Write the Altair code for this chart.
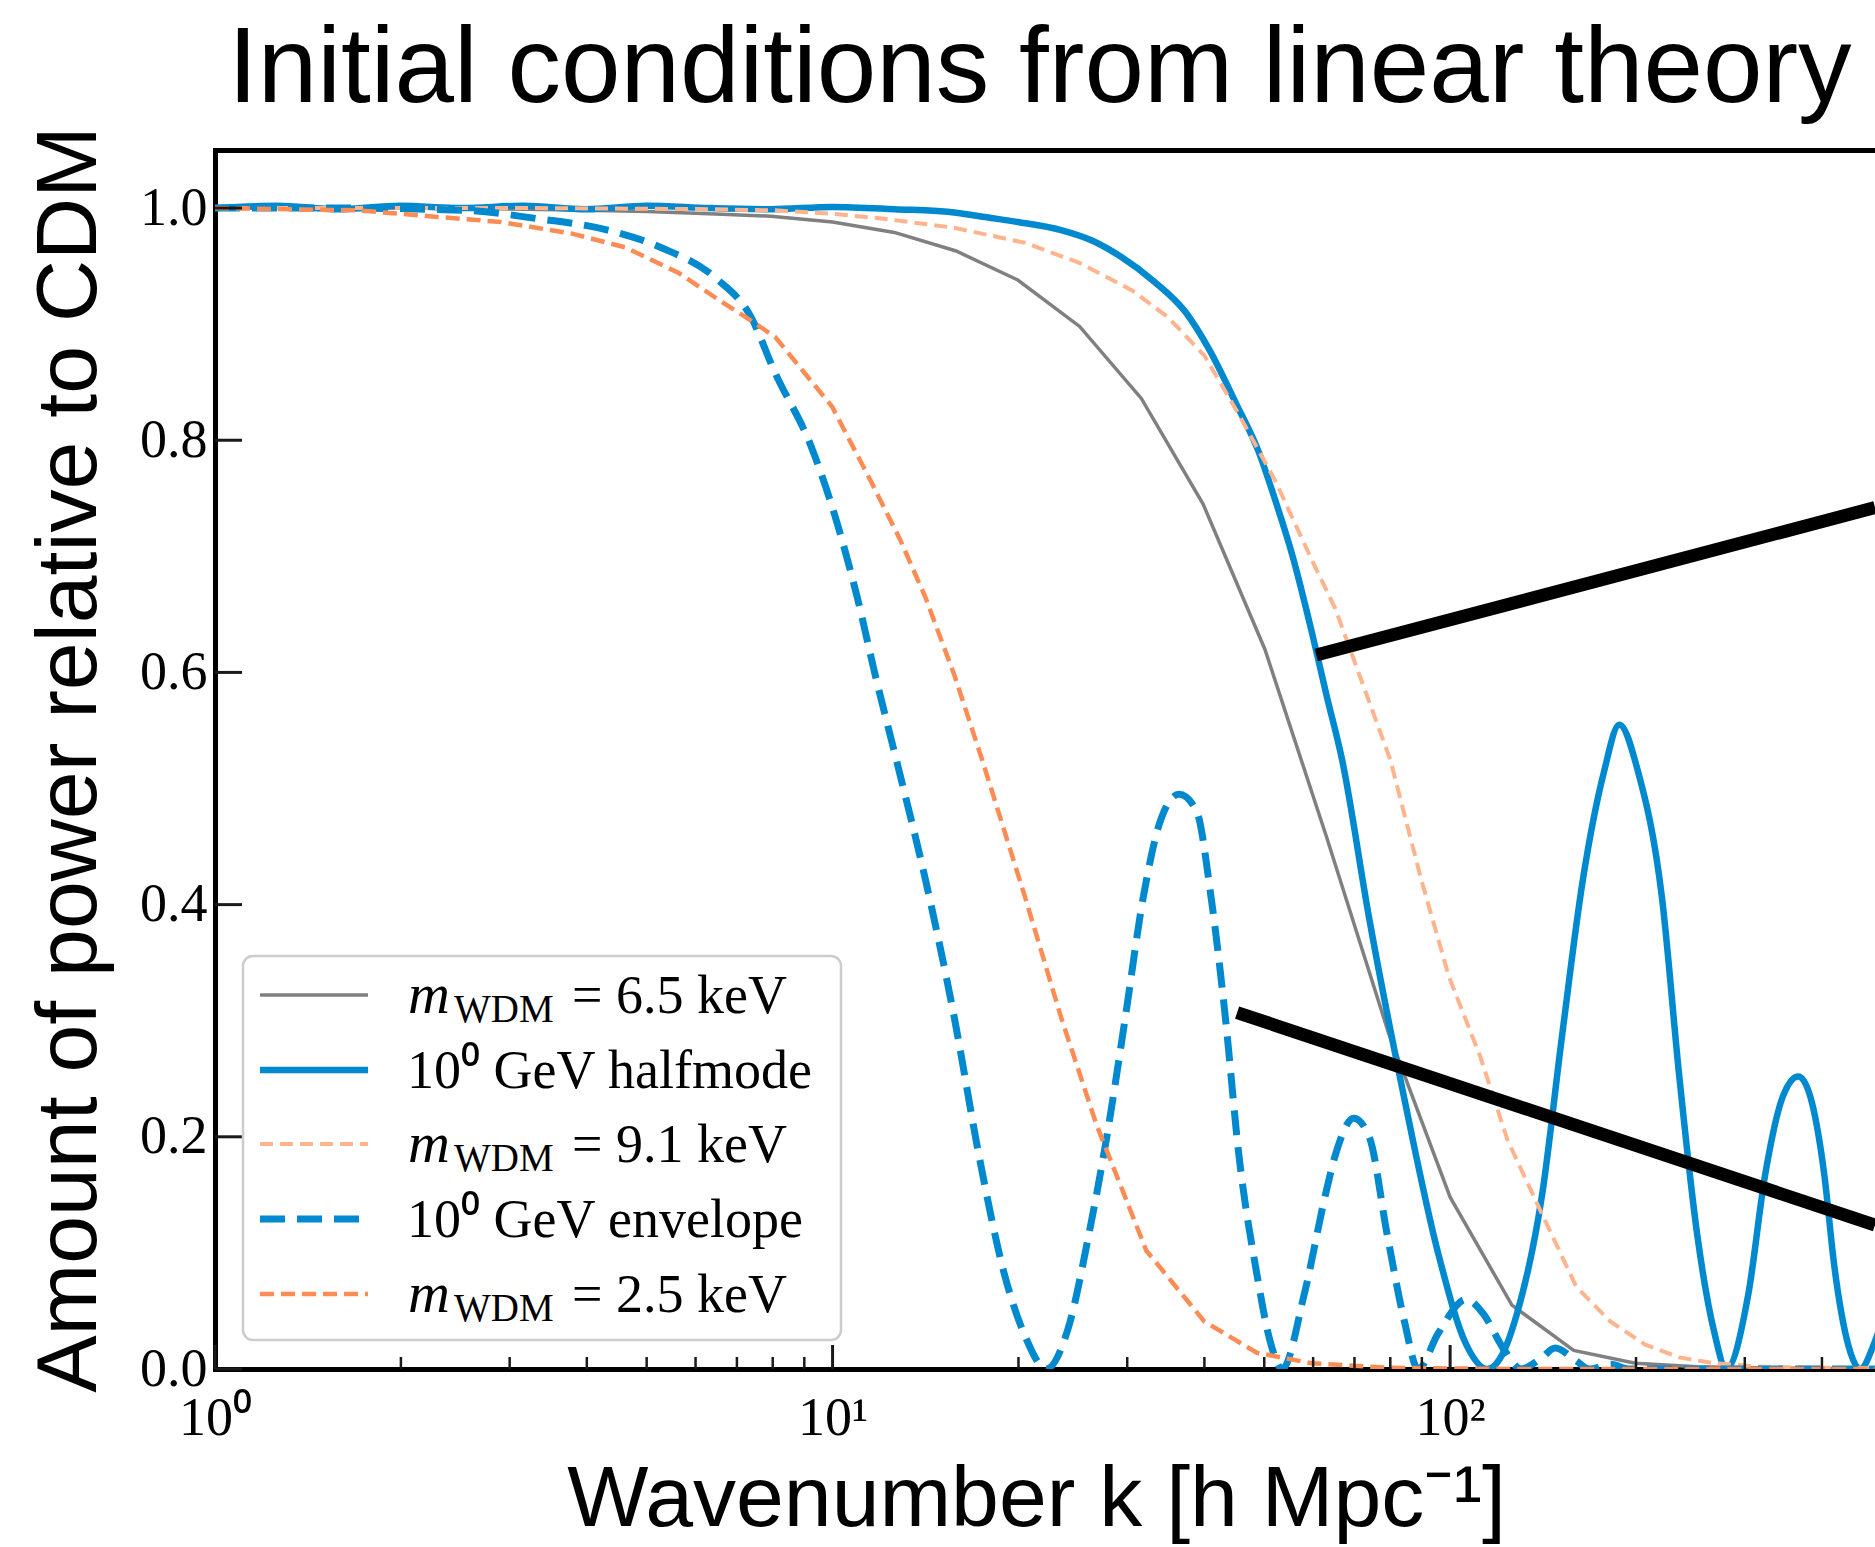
import altair as alt
import pandas as pd

# ---------------- data ----------------
# m_WDM = 6.5 keV (grey, solid)
k_gray = [1.0, 1.259, 1.585, 1.995, 2.512, 3.162, 3.981, 5.012, 6.310, 7.943, 10.0, 12.59, 15.85, 19.95,
          25.12, 31.62, 39.81, 50.12, 63.10, 79.43, 100.0, 125.9, 158.5, 199.5, 251.2, 316.2, 398.1, 501.2]
p_gray = [1.000, 1.000, 1.000, 1.000, 1.000, 0.999, 0.998, 0.997, 0.995, 0.993, 0.988, 0.979, 0.963, 0.938,
          0.898, 0.836, 0.745, 0.620, 0.458, 0.290, 0.148, 0.055, 0.016, 0.005, 0.002, 0.001, 0.0005, 0.0003]

# 10^0 GeV halfmode (blue, solid)
k_half = [1.0, 1.259, 1.585, 1.995, 2.512, 3.162, 3.981, 5.012, 6.310, 7.943, 10.0, 12.59, 15.85, 17.78,
          19.95, 23.44, 26.3, 29.31, 33.11, 37.33, 40.74, 44.98, 48.98, 52.12, 55.59, 59.57, 63.10, 66.83,
          73.96, 84.14, 95.71, 106.2, 114.8, 121.6, 128.2, 140.9, 151.7, 164.1, 177.4, 187.9, 201.4, 220.3,
          235.0, 251.2, 267.9, 279.9, 304.1, 323.6, 345.9, 366.4, 382.8, 403.6, 418.8, 441.6, 461.3, 487.5,
          512.9]
p_half = [1.000, 1.002, 0.999, 1.002, 1.000, 1.002, 0.999, 1.002, 1.000, 0.999, 1.001, 0.999, 0.996, 0.992,
          0.988, 0.981, 0.972, 0.958, 0.937, 0.910, 0.878, 0.832, 0.790, 0.748, 0.700, 0.637, 0.580, 0.525,
          0.388, 0.235, 0.099, 0.021, 0.000, 0.013, 0.047, 0.150, 0.286, 0.422, 0.514, 0.555, 0.515, 0.406,
          0.252, 0.116, 0.031, 0.000, 0.065, 0.167, 0.235, 0.252, 0.235, 0.167, 0.089, 0.020, 0.000, 0.024,
          0.060]

# m_WDM = 9.1 keV (light orange, dashed)
k_91 = [1.0, 3.162, 6.310, 8.072, 10.0, 12.02, 15.74, 20.51, 25.06, 30.55, 34.91, 39.99, 45.5, 52.12,
        59.57, 65.16, 79.98, 89.74, 99.54, 111.9, 123.9, 139.0, 160.0, 181.6, 207.0, 235.0, 267.3, 316.2,
        501.2]
p_91 = [1.000, 1.000, 0.999, 0.998, 0.995, 0.991, 0.983, 0.970, 0.953, 0.929, 0.906, 0.873, 0.822, 0.765,
        0.698, 0.655, 0.525, 0.422, 0.338, 0.269, 0.197, 0.140, 0.071, 0.041, 0.021, 0.010, 0.005, 0.002,
        0.0005]

# 10^0 GeV envelope (blue, dashed)
k_env = [1.0, 1.585, 2.541, 3.311, 4.325, 5.272, 6.457, 7.379, 8.072, 9.226, 10.14, 10.96, 11.72, 12.68,
         14.13, 15.74, 17.26, 18.97, 20.51, 22.18, 24.04, 26.0, 27.8, 29.79, 31.84, 34.04, 36.39, 38.82,
         41.02, 43.25, 45.5, 48.64, 51.05, 53.46, 58.08, 62.81, 65.16, 69.82, 73.96, 79.07, 84.33, 88.72,
         95.71, 106.2, 113.0, 122.5, 130.3, 140.9, 147.9, 160.0, 167.9, 182.0, 195.0, 316.2, 501.2]
p_env = [1.000, 1.000, 0.998, 0.991, 0.981, 0.966, 0.940, 0.906, 0.858, 0.795, 0.731, 0.665, 0.598, 0.525,
         0.422, 0.303, 0.184, 0.082, 0.028, 0.000, 0.034, 0.116, 0.200, 0.303, 0.406, 0.474, 0.495, 0.481,
         0.406, 0.303, 0.184, 0.082, 0.025, 0.000, 0.065, 0.150, 0.184, 0.216, 0.200, 0.116, 0.041, 0.000,
         0.031, 0.060, 0.048, 0.016, 0.000, 0.010, 0.018, 0.007, 0.000, 0.004, 0.000, 0.000, 0.000]

# m_WDM = 2.5 keV (orange, dashed)
k_25 = [1.0, 1.702, 2.223, 2.904, 3.784, 4.624, 5.636, 6.622, 7.379, 8.072, 9.98, 11.53, 12.85, 14.13,
        15.74, 17.46, 20.51, 23.44, 26.73, 32.21, 39.99, 48.64, 59.57, 79.43, 125.9, 501.2]
p_25 = [1.000, 0.998, 0.993, 0.988, 0.978, 0.966, 0.944, 0.919, 0.903, 0.889, 0.829, 0.765, 0.715, 0.665,
        0.598, 0.525, 0.406, 0.303, 0.211, 0.102, 0.041, 0.014, 0.005, 0.001, 0.000, 0.000]

# black pointer lines (start -> end, in data units)
ann_k1 = [60.7, 45.19]
ann_p1 = [0.615, 0.307]
ann_k2 = [487.5, 487.5]
ann_p2 = [0.742, 0.124]

# axes ticks and labels
x_major = [1, 10, 100]
x_major_labels = ["10\u2070", "10\u00b9", "10\u00b2"]
x_minor = [2, 3, 4, 5, 6, 7, 8, 9, 20, 30, 40, 50, 60, 70, 80, 90, 200, 300, 400]
y_ticks = [0.0, 0.2, 0.4, 0.6, 0.8, 1.0]

title_text = "Initial conditions from linear theory"
x_title = "Wavenumber k [h Mpc\u207b\u00b9]"
y_title = "Amount of power relative to CDM"

# legend texts: (italic symbol, subscript, main text)
legend_parts = [
    ("m", "WDM", "= 6.5 keV"),
    ("", "", "10\u2070 GeV  halfmode"),
    ("m", "WDM", "= 9.1 keV"),
    ("", "", "10\u2070 GeV  envelope"),
    ("m", "WDM", "= 2.5 keV"),
]

# ---------------- styles ----------------
W, H = 1660, 1219
SERIF = "Liberation Serif"
SANS = "Liberation Sans"

styles = [
    dict(k=k_gray, p=p_gray, color="#808080", width=3.5, dash=None, interp="linear"),
    dict(k=k_half, p=p_half, color="#0089CF", width=6.5, dash=None, interp="monotone"),
    dict(k=k_91, p=p_91, color="#FFB48E", width=4, dash=[13, 7], interp="linear"),
    dict(k=k_env, p=p_env, color="#0089CF", width=7, dash=[25, 12], interp="monotone"),
    dict(k=k_25, p=p_25, color="#FC8C54", width=4.5, dash=[14, 7], interp="linear"),
]

x_scale = alt.Scale(type="log", domain=[1, 487.5], nice=False)
y_scale = alt.Scale(domain=[0, 1.05], nice=False, zero=False)

label_expr = " : ".join(
    f"datum.value == {v} ? '{lab}'" for v, lab in zip(x_major[:-1], x_major_labels[:-1])
) + f" : '{x_major_labels[-1]}'"

x_axis_bottom = alt.Axis(
    orient="bottom", values=x_major, labelExpr=label_expr, ticks=False, tickSize=0, grid=False,
    domainColor="black", domainWidth=5, domainCap="square",
    labelFont=SERIF, labelFontSize=54, labelColor="black", labelPadding=65,
    labelBaseline="alphabetic", labelFlush=False, labelOverlap=False,
    title=x_title, titleFont=SANS, titleFontSize=86, titleFontWeight=300, titleColor="black",
    titleX=821, titleY=156, titleBaseline="alphabetic",
)
x_axis_top = alt.Axis(
    orient="top", labels=False, ticks=False, tickSize=0, grid=False, domain=True,
    domainColor="black", domainWidth=5, domainCap="square", title="",
)
y_axis = alt.Axis(
    orient="left", values=y_ticks, format=".1f", ticks=False, tickSize=0, grid=False,
    domainColor="black", domainWidth=5, domainCap="square",
    labelFont=SERIF, labelFontSize=54, labelColor="black", labelPadding=8,
    labelBaseline="middle", labelFlush=False, labelOverlap=False,
    title=y_title, titleFont=SANS, titleFontSize=86, titleFontWeight=300, titleColor="black",
    titleX=-120, titleY=609, titleBaseline="alphabetic", titleAngle=270,
)

layers = []

# curves
for i, s in enumerate(styles):
    df = pd.DataFrame({"k": s["k"], "P": s["p"]})
    mk = dict(color=s["color"], strokeWidth=s["width"], clip=True, interpolate=s["interp"])
    if s["dash"]:
        mk["strokeDash"] = s["dash"]
    if i == 0:
        enc = dict(x=alt.X("k:Q", scale=x_scale, axis=x_axis_bottom),
                   y=alt.Y("P:Q", scale=y_scale, axis=y_axis))
    else:
        enc = dict(x=alt.X("k:Q", scale=x_scale, axis=None),
                   y=alt.Y("P:Q", scale=y_scale, axis=None))
    layers.append(alt.Chart(df).mark_line(**mk).encode(**enc))

# black pointer lines
ann = pd.DataFrame({"k": ann_k1, "P": ann_p1, "k2": ann_k2, "P2": ann_p2})
layers.append(
    alt.Chart(ann).mark_rule(color="black", strokeWidth=13, strokeCap="butt", clip=True).encode(
        x=alt.X("k:Q", scale=x_scale, axis=None), x2="k2:Q",
        y=alt.Y("P:Q", scale=y_scale, axis=None), y2="P2:Q",
    )
)

# inward ticks
layers.append(
    alt.Chart(pd.DataFrame({"k": x_major})).mark_rule(color="#1a1a1a", strokeWidth=3).encode(
        x=alt.X("k:Q", scale=x_scale, axis=x_axis_top), y=alt.value(H), y2=alt.value(H - 24)
    )
)
layers.append(
    alt.Chart(pd.DataFrame({"k": x_minor})).mark_rule(color="#1a1a1a", strokeWidth=2.5).encode(
        x=alt.X("k:Q", scale=x_scale, axis=None), y=alt.value(H), y2=alt.value(H - 12)
    )
)
layers.append(
    alt.Chart(pd.DataFrame({"P": y_ticks})).mark_rule(color="#1a1a1a", strokeWidth=3).encode(
        y=alt.Y("P:Q", scale=y_scale, axis=None), x=alt.value(0), x2=alt.value(27)
    )
)

# legend (frame, symbols, labels)
one = pd.DataFrame({"a": [0]})
layers.append(
    alt.Chart(one).mark_rect(fill="white", stroke="#cccccc", strokeWidth=2.5, cornerRadius=10).encode(
        x=alt.value(28), x2=alt.value(626), y=alt.value(806), y2=alt.value(1190)
    )
)
row_y = [845, 920, 994, 1069, 1144]
for s, (sym, sub, main), yy in zip(styles, legend_parts, row_y):
    mk = dict(color=s["color"], strokeWidth=s["width"])
    if s["dash"]:
        mk["strokeDash"] = s["dash"]
    layers.append(
        alt.Chart(one).mark_rule(**mk).encode(x=alt.value(45), x2=alt.value(153), y=alt.value(yy))
    )
    if sym:
        layers.append(
            alt.Chart(one).mark_text(text=sym, font=SERIF, fontStyle="italic", fontSize=58,
                                     align="left", baseline="alphabetic", color="black").encode(
                x=alt.value(193), y=alt.value(yy + 18))
        )
        layers.append(
            alt.Chart(one).mark_text(text=sub, font=SERIF, fontSize=39,
                                     align="left", baseline="alphabetic", color="black").encode(
                x=alt.value(239), y=alt.value(yy + 27))
        )
        layers.append(
            alt.Chart(one).mark_text(text=main, font=SERIF, fontSize=54,
                                     align="left", baseline="alphabetic", color="black").encode(
                x=alt.value(357), y=alt.value(yy + 18))
        )
    else:
        layers.append(
            alt.Chart(one).mark_text(text=main, font=SERIF, fontSize=54,
                                     align="left", baseline="alphabetic", color="black").encode(
                x=alt.value(192), y=alt.value(yy + 18))
        )

# chart title (as text above the plot frame)
layers.append(
    alt.Chart(one).mark_text(text=title_text, font=SANS, fontSize=107, fontWeight=300,
                             align="left", baseline="alphabetic", color="black").encode(
        x=alt.value(13), y=alt.value(-48))
)

chart = (
    alt.layer(*layers)
    .resolve_axis(x="independent", y="independent")
    .properties(
        width=W,
        height=H,
        padding={"left": 215, "top": 150, "right": 0, "bottom": 178},
        autosize=alt.AutoSizeParams(type="none"),
        background="white",
    )
    .configure_view(stroke="transparent")
)

chart.save("out.html", embed_options={"renderer": "svg", "actions": False})
